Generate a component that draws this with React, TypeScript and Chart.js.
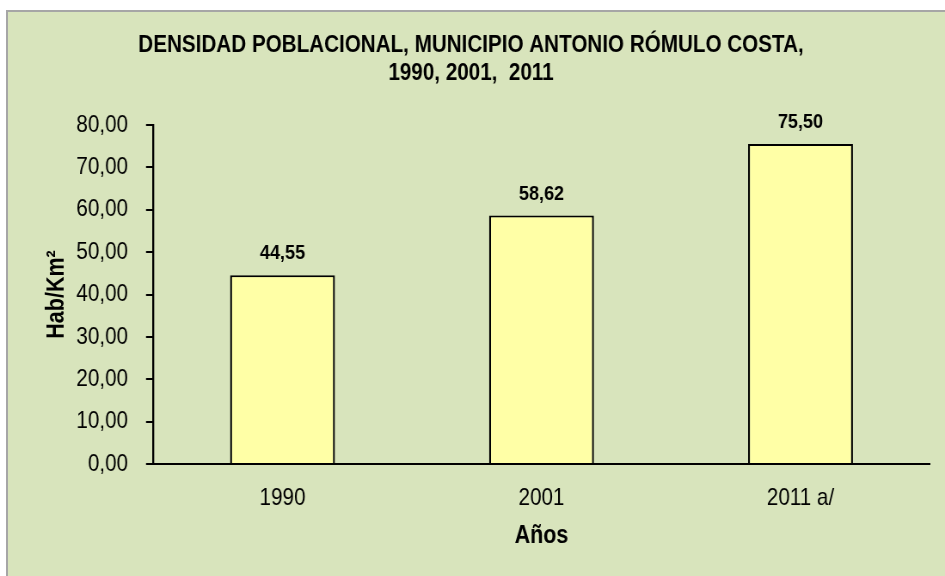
import React, { useEffect, useRef } from "react";
import { Chart, registerables } from "chart.js";

Chart.register(...registerables);

const categories = ["1990", "2001", "2011 a/"];
const densityValues = [44.55, 58.62, 75.5];
const titleLines = ["DENSIDAD POBLACIONAL, MUNICIPIO ANTONIO RÓMULO COSTA,", "1990, 2001,  2011"];
const yAxisTitle = "Hab/Km²";
const xAxisTitle = "Años";

const FONT = "'Liberation Sans', Arial, sans-serif";
const fmt = (v: number) => v.toFixed(2).replace(".", ",");

// The reference uses a condensed typeface; emulate by drawing on a wider canvas squeezed horizontally.
const W = 945;
const H = 576;
const CW = 1099;
const S = W / CW;
const sx = (px: number) => px / S;

const labelPlugin = {
  id: "valueLabels",
  afterDatasetsDraw(chart: any) {
    const ctx = chart.ctx;
    const meta = chart.getDatasetMeta(0);
    ctx.save();
    ctx.font = `bold 21px ${FONT}`;
    ctx.fillStyle = "#000";
    ctx.textAlign = "center";
    ctx.textBaseline = "alphabetic";
    meta.data.forEach((el: any, i: number) => {
      ctx.fillText(fmt(densityValues[i]), el.x, el.y - 16);
    });
    ctx.restore();
  },
};

const titlePlugin = {
  id: "customTitle",
  afterDraw(chart: any) {
    const ctx = chart.ctx;
    ctx.save();
    ctx.font = `bold 24px ${FONT}`;
    ctx.fillStyle = "#000";
    ctx.textAlign = "center";
    ctx.textBaseline = "middle";
    ctx.fillText(titleLines[0], sx(471), 45);
    ctx.fillText(titleLines[1], sx(471), 73);
    // rotated y-axis title, condensed along its reading direction
    const a = chart.chartArea;
    ctx.translate(sx(57), (a.top + a.bottom) / 2);
    ctx.scale(1 / S, 1);
    ctx.rotate(-Math.PI / 2);
    ctx.scale(S, 1);
    ctx.font = `bold 25px ${FONT}`;
    ctx.fillText(yAxisTitle, 0, 0);
    ctx.restore();
  },
};

export default function App() {
  const ref = useRef<HTMLCanvasElement>(null);
  useEffect(() => {
    if (!ref.current) return;
    const chart = new Chart(ref.current, {
      type: "bar",
      data: {
        labels: categories,
        datasets: [
          {
            data: densityValues,
            backgroundColor: "#ffffa6",
            borderColor: "#000000",
            borderWidth: { top: 2, bottom: 0, left: sx(2), right: sx(2) },
            borderSkipped: false,
            barPercentage: 0.405,
            categoryPercentage: 1,
          },
        ],
      },
      options: {
        responsive: false,
        animation: false,
        layout: { padding: { left: 0, right: sx(15), top: 125, bottom: 0 } },
        plugins: { legend: { display: false }, title: { display: false }, tooltip: { enabled: false } },
        scales: {
          x: {
            afterFit: (s: any) => {
              s.height = 112;
            },
            grid: { display: true, drawOnChartArea: false, drawTicks: false },
            border: { display: true, color: "#000", width: 2 },
            ticks: { color: "#000", font: { family: FONT, size: 24 }, padding: 20 },
            title: {
              display: true,
              text: xAxisTitle,
              color: "#000",
              font: { family: FONT, size: 25, weight: "bold" },
              padding: { top: 0, bottom: 25 },
            },
          },
          y: {
            min: 0,
            max: 80,
            afterFit: (s: any) => {
              s.width = sx(153);
            },
            grid: { drawOnChartArea: false, drawTicks: true, tickLength: sx(7), color: "#000", lineWidth: 2 },
            border: { display: true, color: "#000", width: sx(2) },
            ticks: {
              stepSize: 10,
              color: "#000",
              padding: sx(18),
              font: { family: FONT, size: 24 },
              callback: (v: any) => fmt(Number(v)),
            },
            title: { display: false },
          },
        },
      },
      plugins: [labelPlugin, titlePlugin],
    });
    return () => chart.destroy();
  }, []);

  return (
    <div style={{ position: "absolute", left: 0, top: 0, width: W, height: H, overflow: "hidden", background: "#fff" }}>
      <div
        style={{
          position: "absolute",
          left: 6,
          top: 10,
          width: 980,
          height: 620,
          background: "#d8e4bc",
          border: "2px solid #a6a6a6",
        }}
      />
      <canvas
        ref={ref}
        width={CW}
        height={H}
        style={{
          position: "absolute",
          left: 0,
          top: 0,
          width: CW,
          height: H,
          transform: `scaleX(${S})`,
          transformOrigin: "0 0",
        }}
      />
    </div>
  );
}
